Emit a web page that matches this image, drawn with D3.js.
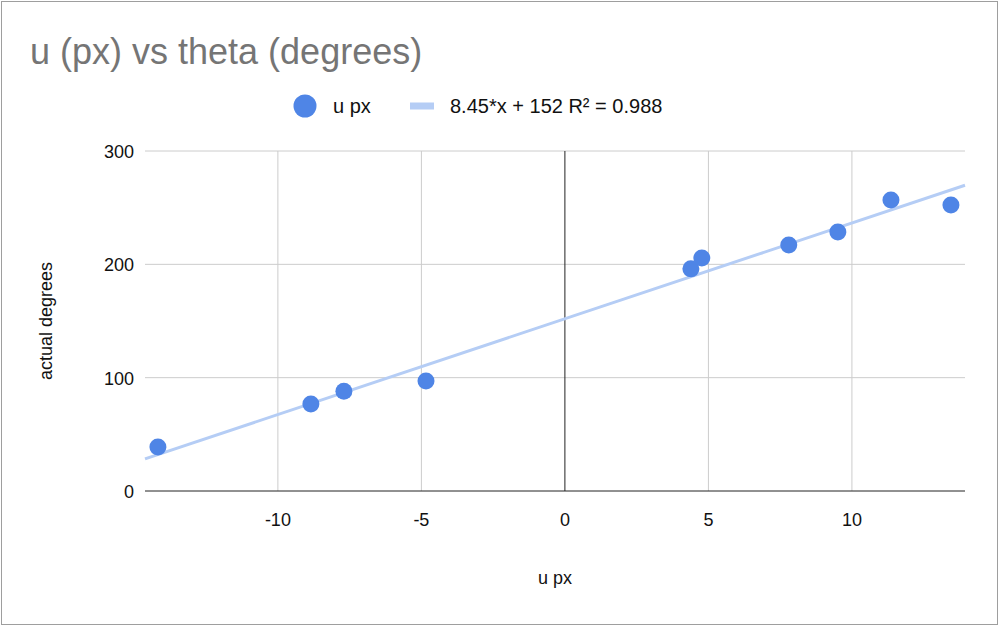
<!DOCTYPE html>
<html><head><meta charset="utf-8">
<script src="https://cdn.jsdelivr.net/npm/d3@7"></script>
<style>body{margin:0;background:#fff}svg{font-family:Arial,"Liberation Sans",sans-serif}</style>
</head><body><div id="chart"></div>
<script>
var uPx = [-14.18, -8.85, -7.7, -4.84, 4.39, 4.77, 7.8, 9.51, 11.36, 13.45];
var degrees = [38.8, 76.8, 88, 97, 196, 205.6, 217, 228.6, 256.8, 252.4];
var xTicks = [-10, -5, 0, 5, 10];
var yTicks = [0, 100, 200, 300];
var slope = 8.45, intercept = 152;

var svg = d3.select("#chart").append("svg").attr("width", 1002).attr("height", 628);
svg.append("rect").attr("x", 1.5).attr("y", 1.5).attr("width", 996).attr("height", 623)
  .attr("fill", "#fff").attr("stroke", "#9e9e9e");

var x = d3.scaleLinear().domain([-14.63, 13.94]).range([145, 965]);
var y = d3.scaleLinear().domain([0, 300]).range([491, 151]);

// gridlines
svg.append("g").selectAll("line").data(xTicks.filter(d => d !== 0)).enter().append("line")
  .attr("x1", d => x(d)).attr("x2", d => x(d)).attr("y1", 151).attr("y2", 491)
  .attr("stroke", "#cccccc");
svg.append("g").selectAll("line").data(yTicks.filter(d => d !== 0)).enter().append("line")
  .attr("x1", 145).attr("x2", 965).attr("y1", d => y(d)).attr("y2", d => y(d))
  .attr("stroke", "#cccccc");
svg.append("line").attr("x1", x(0)).attr("x2", x(0)).attr("y1", 151).attr("y2", 491).attr("stroke", "#222");
svg.append("line").attr("x1", 145).attr("x2", 965).attr("y1", y(0)).attr("y2", y(0)).attr("stroke", "#222");

// tick labels
svg.append("g").selectAll("text").data(xTicks).enter().append("text")
  .attr("x", d => x(d)).attr("y", 526).attr("text-anchor", "middle")
  .attr("font-size", 18).attr("fill", "#111").text(d => d);
svg.append("g").selectAll("text").data(yTicks).enter().append("text")
  .attr("x", 134).attr("y", d => y(d) + 7).attr("text-anchor", "end")
  .attr("font-size", 18).attr("fill", "#111").text(d => d);

// trendline
var xd = x.domain();
svg.append("line")
  .attr("x1", x(xd[0])).attr("y1", y(slope * xd[0] + intercept))
  .attr("x2", x(xd[1])).attr("y2", y(slope * xd[1] + intercept))
  .attr("stroke", "#b5cdf5").attr("stroke-width", 3);

// points
svg.append("g").selectAll("circle").data(uPx).enter().append("circle")
  .attr("cx", d => x(d)).attr("cy", (d, i) => y(degrees[i]))
  .attr("r", 8.5).attr("fill", "#4f85e6");

// title, legend, axis titles
svg.append("text").attr("x", 30).attr("y", 64).attr("font-size", 36).attr("fill", "#757575")
  .text("u (px) vs theta (degrees)");
svg.append("circle").attr("cx", 305).attr("cy", 106).attr("r", 11.5).attr("fill", "#4f85e6");
svg.append("text").attr("x", 333).attr("y", 113).attr("font-size", 20).attr("fill", "#111").text("u px");
svg.append("line").attr("x1", 410).attr("x2", 434).attr("y1", 106).attr("y2", 106)
  .attr("stroke", "#b5cdf5").attr("stroke-width", 7);
svg.append("text").attr("x", 450).attr("y", 113).attr("font-size", 20).attr("fill", "#111")
  .text("8.45*x + 152 R² = 0.988");
svg.append("text").attr("transform", "translate(52,321) rotate(-90)").attr("text-anchor", "middle")
  .attr("font-size", 18).attr("fill", "#111").text("actual degrees");
svg.append("text").attr("x", 555).attr("y", 584).attr("text-anchor", "middle")
  .attr("font-size", 18).attr("fill", "#111").text("u px");
</script></body></html>
